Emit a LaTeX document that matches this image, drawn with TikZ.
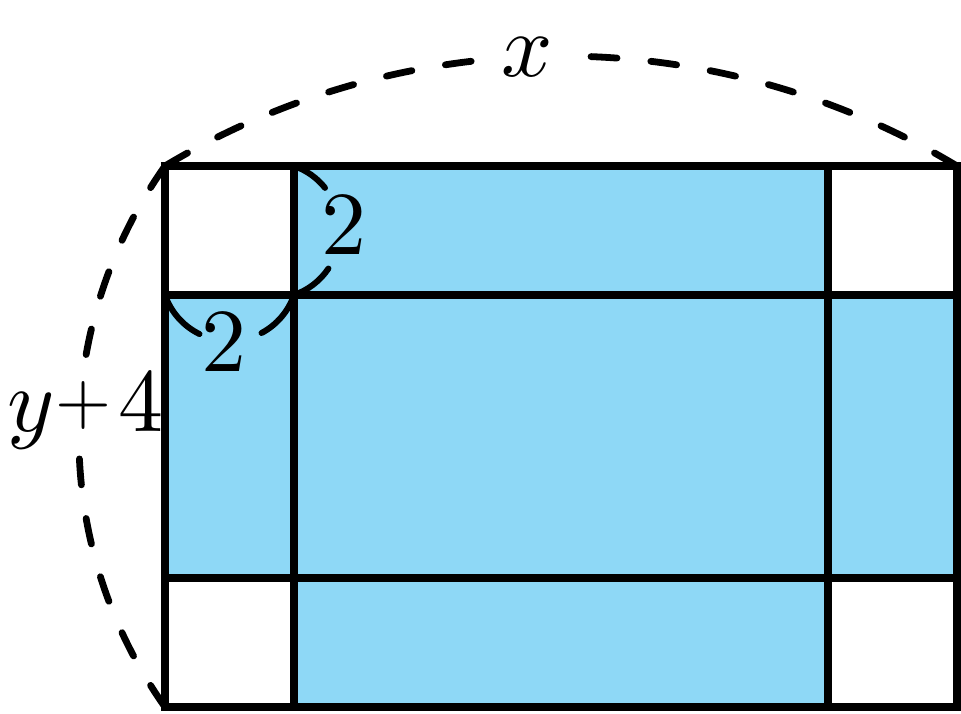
\documentclass[tikz,border=0pt]{standalone}
\usepackage{graphicx}
\definecolor{paneblue}{RGB}{142,216,246}
\tikzset{
  frame/.style={line width=7.5pt},
  dashline/.style={line width=6.8pt, line cap=round, dash pattern=on 26pt off 34pt},
  bracearc/.style={line width=6pt, line cap=round},
  lab/.style={inner sep=0pt, scale=9, font=\fontsize{10}{12}\selectfont}
}
\begin{document}
\begin{tikzpicture}[x=1pt,y=1pt]
\useasboundingbox (0,0) rectangle (961,713);
% corners
\coordinate (TL) at (165,547);
\coordinate (TR) at (957,547);
\coordinate (BR) at (957,6);
\coordinate (BL) at (165,6);
\coordinate (I1) at (294,547);
\coordinate (I2) at (294,418);
\coordinate (L2) at (165,418);
% blue cross
\fill[paneblue] (294,6) rectangle (828,547);
\fill[paneblue] (165,135) rectangle (957,418);
% grid
\draw[frame] (BL) rectangle (TR);
\draw[frame] (294,6) -- (I1);
\draw[frame] (828,6) -- (828,547);
\draw[frame] (L2) -- (957,418);
\draw[frame] (165,135) -- (957,135);
% top dashed arc (x)
\draw[dashline] (TL) arc[start angle=121.04, end angle=96.43, radius=768pt];
\draw[dashline] (TR) arc[start angle=58.96, end angle=88.43, radius=768pt];
\node[lab, anchor=base] (xl) at (527,636.5) {$x$};
% left dashed arc (y+4)
\draw[dashline] (TL) arc[start angle=144.7, end angle=170.6, radius=468.4pt];
\draw[dashline] (BL) arc[start angle=215.3, end angle=182.26, radius=468.4pt];
\node[lab, anchor=base west] (yl) at (6,281) {$y$\raisebox{0.1em}{\scalebox{0.8}{$+$}}\kern0.08em$4$};
% small arcs
\draw[bracearc] (I1) arc[start angle=71, end angle=38.7, radius=68.2pt];
\draw[bracearc] (I2) arc[start angle=-71, end angle=-33.9, radius=68.2pt];
\node[lab, anchor=base] (t1) at (343.5,458) {$2$};
\draw[bracearc] (L2) arc[start angle=199, end angle=243.9, radius=68.2pt];
\draw[bracearc] (I2) arc[start angle=341, end angle=298, radius=68.2pt];
\node[lab, anchor=base] (t2) at (224,341.3) {$2$};
\end{tikzpicture}
\end{document}
